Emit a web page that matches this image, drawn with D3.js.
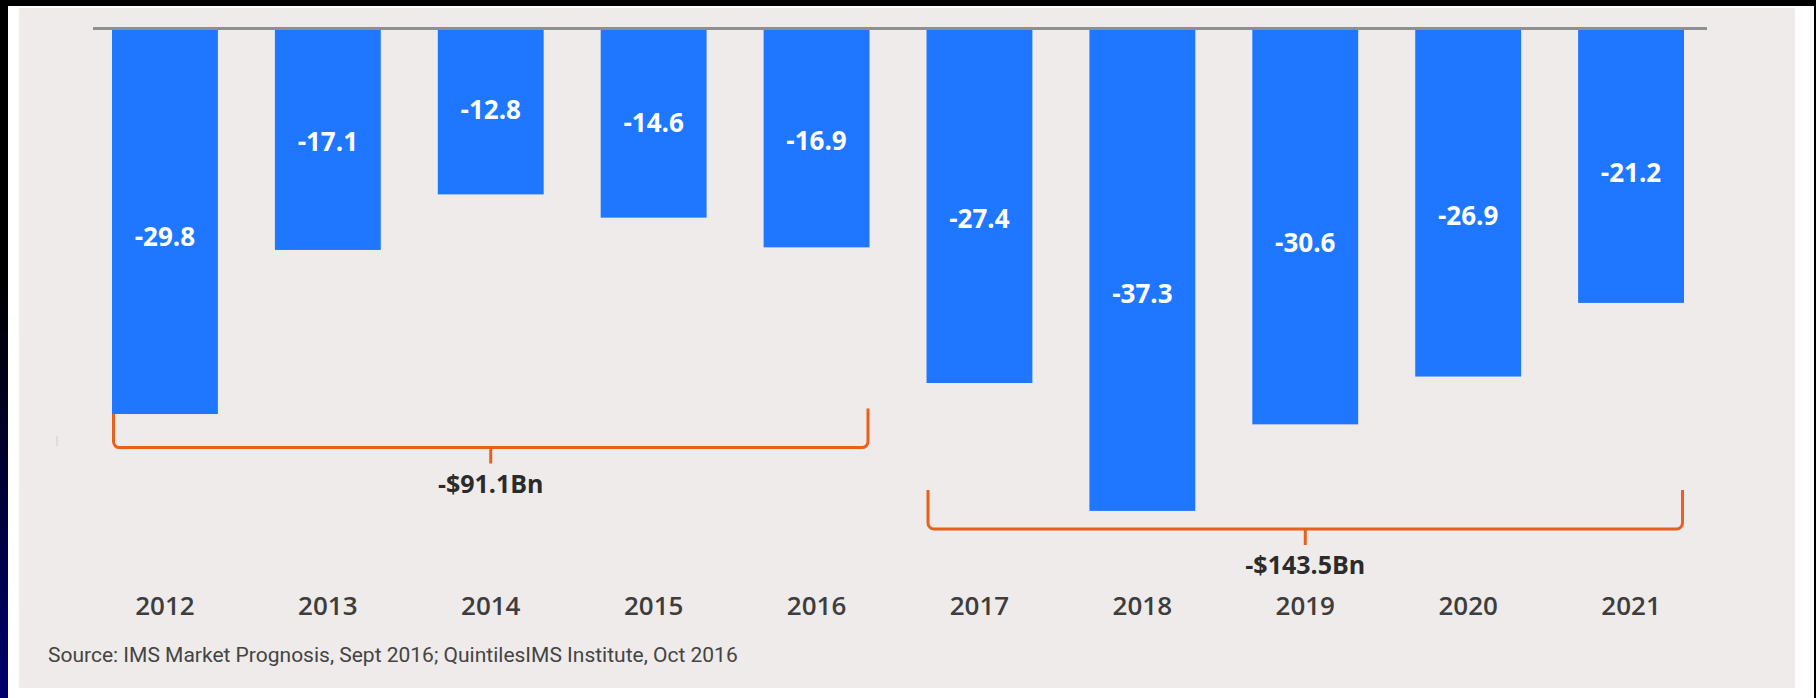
<!DOCTYPE html>
<html>
<head>
<meta charset="utf-8">
<script src="https://cdn.jsdelivr.net/npm/d3@7"></script>
<style>
  html, body { margin: 0; padding: 0; background: #000; overflow: hidden; }
  svg { display: block; }
</style>
</head>
<body>
<div id="chart"></div>
<script>
// values in $Bn
var years = ["2012", "2013", "2014", "2015", "2016", "2017", "2018", "2019", "2020", "2021"];
var values = [-29.8, -17.1, -12.8, -14.6, -16.9, -27.4, -37.3, -30.6, -26.9, -21.2];
var groupFrom = ["2012", "2017"];
var groupTo = ["2016", "2021"];
var groupTotals = ["-$91.1Bn", "-$143.5Bn"];
var groupLevels = [-32.4, -38.7];   // where the bracket runs, on the value scale
var source = "Source: IMS Market Prognosis, Sept 2016; QuintilesIMS Institute, Oct 2016";

var width = 1816, height = 698;
var font = "'Open Sans', sans-serif";

var svg = d3.select("#chart").append("svg")
  .attr("width", width)
  .attr("height", height);

// frame: dark strip on the left, white mat, grey panel
var grad = svg.append("defs").append("linearGradient")
  .attr("id", "edge").attr("x1", 0).attr("y1", 0).attr("x2", 0).attr("y2", 1);
grad.append("stop").attr("offset", "0.4").attr("stop-color", "#000");
grad.append("stop").attr("offset", "1").attr("stop-color", "#00006e");

svg.append("rect").attr("x", 0).attr("y", 0).attr("width", 8).attr("height", height).attr("fill", "url(#edge)");
svg.append("rect").attr("x", 8).attr("y", 6).attr("width", 1806).attr("height", height - 6).attr("fill", "#fff");
svg.append("rect").attr("x", 19).attr("y", 8).attr("width", 1776).attr("height", 680).attr("fill", "#eeebea");

var x = d3.scaleBand()
  .domain(years)
  .range([112, 1684])
  .paddingInner(0.35)
  .paddingOuter(0);

var y = d3.scaleLinear()
  .domain([0, -40])
  .range([29, 29 + 40 * 12.92]);

var data = years.map(function(d, i) { return {year: d, value: values[i]}; });

// brackets go under the bars
var groups = groupFrom.map(function(d, i) {
  return {from: d, to: groupTo[i], total: groupTotals[i], level: groupLevels[i]};
});

var orange = "#e8601c";
var r = 6;
var bracket = svg.append("g").attr("class", "brackets");
groups.forEach(function(g) {
  var x0 = x(g.from) + 1.5, x1 = x(g.to) + x.bandwidth() - 1.5;
  var yb = y(g.level), yt = yb - 39;
  var xm = (x0 + x1) / 2;
  var p = d3.path();
  p.moveTo(x0, yt);
  p.lineTo(x0, yb - r);
  p.arcTo(x0, yb, x0 + r, yb, r);
  p.lineTo(x1 - r, yb);
  p.arcTo(x1, yb, x1, yb - r, r);
  p.lineTo(x1, yt);
  p.moveTo(xm, yb);
  p.lineTo(xm, yb + 16);
  bracket.append("path")
    .attr("d", p.toString())
    .attr("fill", "none")
    .attr("stroke", orange)
    .attr("stroke-width", 3);
  bracket.append("text")
    .attr("x", xm)
    .attr("y", yb + 35)
    .attr("text-anchor", "middle")
    .attr("dominant-baseline", "central")
    .style("font-family", font)
    .style("font-weight", 700)
    .style("font-size", "25px")
    .style("fill", "#2b2b2b")
    .text(g.total);
});

svg.append("g").attr("class", "bars")
  .selectAll("rect")
  .data(data)
  .enter().append("rect")
  .attr("x", d => x(d.year))
  .attr("y", y(0))
  .attr("width", x.bandwidth())
  .attr("height", d => y(d.value) - y(0))
  .attr("fill", "#1f77ff");

// labels sit a little below the middle on the long bars
svg.append("g").attr("class", "labels")
  .selectAll("text")
  .data(data)
  .enter().append("text")
  .attr("x", d => x(d.year) + x.bandwidth() / 2)
  .attr("y", function(d) {
    var h = y(d.value) - y(0);
    return y(0) + h * 0.5 + (h - 200) * 0.08;
  })
  .attr("text-anchor", "middle")
  .attr("dominant-baseline", "central")
  .style("font-family", font)
  .style("font-weight", 700)
  .style("font-size", "26px")
  .style("fill", "#fff")
  .text(d => d.value.toFixed(1));

// zero line
svg.append("line")
  .attr("x1", 93).attr("x2", 1707)
  .attr("y1", 28.5).attr("y2", 28.5)
  .attr("stroke", "#8f8f8f")
  .attr("stroke-width", 3);

var xAxis = svg.append("g")
  .attr("transform", "translate(0,606)")
  .call(d3.axisBottom(x).tickSize(0).tickPadding(0));
xAxis.select(".domain").remove();
xAxis.selectAll("text")
  .attr("dy", "0.35em")
  .style("font-family", font)
  .style("font-weight", 600)
  .style("font-size", "26px")
  .style("fill", "#3d3d3d");

svg.append("rect")
  .attr("x", 56).attr("y", 436).attr("width", 2).attr("height", 10)
  .attr("fill", "#ddd");

svg.append("text")
  .attr("x", 48)
  .attr("y", 655)
  .attr("dominant-baseline", "central")
  .style("font-family", "Roboto, sans-serif")
  .style("font-size", "21px")
  .style("fill", "#444")
  .text(source);
</script>
</body>
</html>
